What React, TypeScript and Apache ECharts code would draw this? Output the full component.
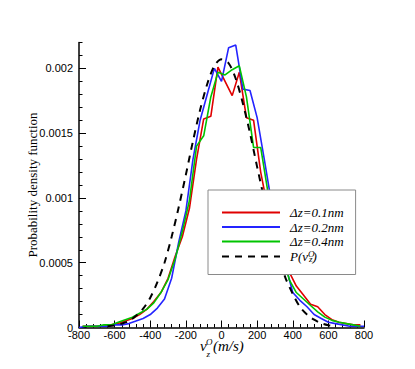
import React, { useEffect, useRef } from 'react';
import * as echarts from 'echarts';

// x positions (m/s) of the histogram bins
const gridA = [-780, -740, -700, -660, -620, -580, -540, -500, -460, -420, -380, -340, -300, -260, -220, -180, -140, -100, -60, -20, 20, 60, 100, 140, 180, 220, 260, 300, 340, 380, 420, 460, 500, 540, 580, 620, 660, 700, 740, 780];
const gridB = [-800, -760, -720, -680, -640, -600, -560, -520, -480, -440, -400, -360, -320, -280, -240, -200, -160, -120, -80, -40, 0, 40, 80, 120, 160, 200, 240, 280, 320, 360, 400, 440, 480, 520, 560, 600, 640, 680, 720, 760, 800];
const gridP = [-640, -600, -560, -520, -480, -440, -400, -360, -320, -280, -240, -200, -160, -120, -80, -40, 0, 40, 80, 120, 160, 200, 240, 280, 320, 360, 400, 440, 480, 520, 560, 600, 640];

// Δz=0.1nm (red), on gridA
const red = [0.00001, 0.00001, 0.00001, 0.00001, 0.00002, 0.00003, 0.00005, 0.00007, 0.0001, 0.00014, 0.0002, 0.00027, 0.00038, 0.00055, 0.0007, 0.00092, 0.0013, 0.00161, 0.00163, 0.00201, 0.0019, 0.00179, 0.00197, 0.00162, 0.0016, 0.0012, 0.00092, 0.00072, 0.00056, 0.00043, 0.00032, 0.00025, 0.00018, 0.00016, 0.0001, 0.00006, 0.00004, 0.00003, 0.00002, 0.00002];
// Δz=0.2nm (blue), on gridB
const blue = [0, 0.00001, 0.00001, 0.00001, 0.00001, 0.00002, 0.00002, 0.00003, 0.00005, 0.00007, 0.0001, 0.00015, 0.00022, 0.00038, 0.00066, 0.0009, 0.0013, 0.0016, 0.0018, 0.002, 0.0019, 0.00216, 0.00218, 0.00184, 0.00183, 0.00162, 0.0013, 0.00097, 0.00072, 0.00048, 0.00027, 0.00021, 0.00016, 0.0001, 0.00007, 0.00004, 0.00003, 0.00002, 0.00001, 0.00001, 0.00001];
// Δz=0.4nm (green), on gridA
const green = [0.00001, 0.00001, 0.00001, 0.00002, 0.00002, 0.00004, 0.00006, 0.00008, 0.00011, 0.00014, 0.00019, 0.00027, 0.00037, 0.00053, 0.00074, 0.00098, 0.0014, 0.00148, 0.00178, 0.00197, 0.00195, 0.00199, 0.00202, 0.00178, 0.00139, 0.00139, 0.00105, 0.0008, 0.00058, 0.00037, 0.00027, 0.00022, 0.00017, 0.00012, 0.00008, 0.000055, 0.00004, 0.00003, 0.00002, 0.00001];
// P(v_z^O) (black dashed), on gridP
const pdf = [0.00001, 0.000015, 0.00003, 0.00005, 0.00009, 0.000145, 0.00023, 0.00035, 0.0005, 0.0007, 0.00093, 0.00118, 0.00144, 0.00168, 0.00188, 0.00202, 0.00207, 0.00204, 0.00192, 0.00173, 0.0015, 0.00124, 0.00099, 0.00075, 0.00055, 0.00038, 0.00026, 0.00016, 0.0001, 0.00006, 0.000033, 0.000018, 0.00001];

const yMajor = [0, 0.0005, 0.001, 0.0015, 0.002];
const seriesNames = ['Δz=0.1nm', 'Δz=0.2nm', 'Δz=0.4nm', 'P(v_z^O)'];

const RED = '#e00000';
const BLUE = '#2424ff';
const GREEN = '#00c400';

export default function App() {
  const ref = useRef<HTMLDivElement>(null);
  useEffect(() => {
    const chart = echarts.init(ref.current!, null, { renderer: 'svg' });
    const pair = (xs: number[], ys: number[]) => xs.map((x, i) => [x, ys[i]]);
    const serif = 'Liberation Serif';
    const sans = 'Liberation Sans';
    chart.setOption({
      animation: false,
      backgroundColor: '#fff',
      grid: { left: 79, right: 51, top: 42.5, bottom: 41.5 },
      xAxis: [{
        type: 'value', min: -800, max: 800, interval: 200,
        axisLine: { onZero: false, lineStyle: { color: '#000', width: 1.5 } },
        axisTick: { inside: true, length: 7, lineStyle: { color: '#000', width: 1 } },
        minorTick: { show: true, splitNumber: 5, length: 3.5, lineStyle: { color: '#000', width: 1 } },
        splitLine: { show: false },
        minorSplitLine: { show: false },
        axisLabel: { color: '#000', fontFamily: sans, fontSize: 11, margin: 2 },
      }],
      yAxis: [
        {
          type: 'value', min: 0, max: 0.0022, interval: 0.0005, position: 'left',
          axisLine: { show: true, onZero: false, lineStyle: { color: '#000', width: 1.5 } },
          axisTick: { inside: true, length: 7, customValues: yMajor, lineStyle: { color: '#000', width: 1 } },
          splitLine: { show: false },
          axisLabel: {
            color: '#000', fontFamily: sans, fontSize: 11, margin: 6, customValues: yMajor,
            formatter: (v: number) => (v > 0.00201 ? '' : String(+v.toFixed(4))),
          },
          name: 'Probability density function',
          nameLocation: 'middle',
          nameGap: 40,
          nameMoveOverlap: false,
          nameTextStyle: { fontFamily: serif, fontSize: 13, color: '#000' },
        },
        {
          type: 'value', min: 0, max: 0.0022, interval: 0.0001, position: 'left',
          axisLine: { show: false, onZero: false },
          axisTick: { inside: true, length: 3.5, lineStyle: { color: '#000', width: 1 } },
          axisLabel: { show: false },
          splitLine: { show: false },
        },
      ],
      legend: {
        left: 208, top: 190, orient: 'vertical',
        data: seriesNames,
        selectedMode: false,
        itemWidth: 58, itemHeight: 14, itemGap: 1.5,
        padding: [16, 12, 11, 13],
        backgroundColor: '#fff', borderColor: '#8a8a8a', borderWidth: 1,
        itemStyle: { color: 'rgba(0,0,0,0)', borderColor: 'rgba(0,0,0,0)', borderWidth: 0, opacity: 0 },
        textStyle: {
          fontFamily: serif, fontStyle: 'italic', fontSize: 13, color: '#000', padding: [0, 0, 0, 5],
          rich: {
            a: { fontFamily: serif, fontStyle: 'italic', fontSize: 13, color: '#000', lineHeight: 14 },
            sup: { fontFamily: serif, fontStyle: 'italic', fontSize: 9, color: '#000', verticalAlign: 'top', lineHeight: 14, width: 1 },
            sub: { fontFamily: serif, fontStyle: 'italic', fontSize: 9, color: '#000', verticalAlign: 'bottom', lineHeight: 14 },
          },
        },
        formatter: (name: string) => (name === seriesNames[3] ? '{a|P(v}{sup|O}{sub|z}{a|)}' : name),
      },
      graphic: [
        { type: 'text', left: 200, top: 338, style: { text: 'v', font: 'italic 15px "Liberation Serif"', fill: '#000' } },
        { type: 'text', left: 206, top: 337, style: { text: 'O', font: 'italic 9px "Liberation Serif"', fill: '#000' } },
        { type: 'text', left: 206.5, top: 349, style: { text: 'z', font: 'italic 9px "Liberation Serif"', fill: '#000' } },
        { type: 'text', left: 213, top: 338, style: { text: '(m/s)', font: 'italic 15px "Liberation Serif"', fill: '#000' } },
      ],
      series: [
        { type: 'line', name: seriesNames[0], data: pair(gridA, red), symbol: 'none', lineStyle: { color: RED, width: 1.6 }, itemStyle: { color: RED } },
        { type: 'line', name: seriesNames[1], data: pair(gridB, blue), symbol: 'none', lineStyle: { color: BLUE, width: 1.6 }, itemStyle: { color: BLUE } },
        { type: 'line', name: seriesNames[2], data: pair(gridA, green), symbol: 'none', lineStyle: { color: GREEN, width: 1.6 }, itemStyle: { color: GREEN } },
        { type: 'line', name: seriesNames[3], data: pair(gridP, pdf), symbol: 'none', smooth: 0.3, lineStyle: { color: '#000', width: 2, type: [7, 6] }, itemStyle: { color: '#000' } },
      ],
    });
    return () => chart.dispose();
  }, []);
  return <div ref={ref} style={{ position: 'fixed', left: 0, top: 0, width: 415, height: 369 }} />;
}
